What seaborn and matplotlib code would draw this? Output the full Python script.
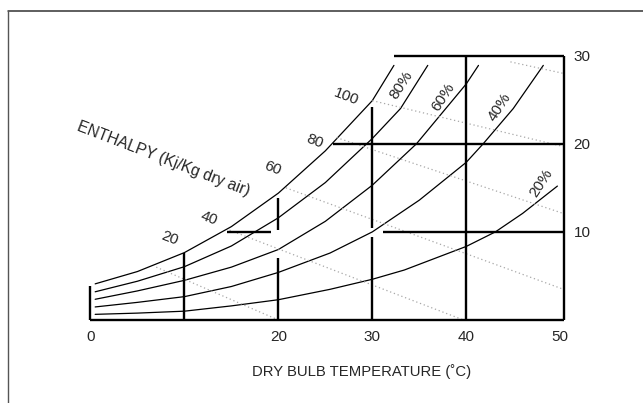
import matplotlib
matplotlib.use("Agg")
import matplotlib.pyplot as plt
from matplotlib.lines import Line2D
import numpy as np
import pandas as pd
import seaborn as sns

# --- Relative-humidity curves (dry bulb °C vs moisture content g/kg) ---
temp_100 = [0.5, 5, 10, 15, 20, 25, 30, 32.3]
moist_100 = [4.1, 5.5, 7.65, 10.6, 14.4, 19.2, 24.9, 28.9]
temp_80 = [0.5, 5, 10, 15, 20, 25, 30, 33, 35.9]
moist_80 = [3.2, 4.4, 6.05, 8.4, 11.6, 15.6, 20.6, 24.0, 28.9]
temp_60 = [0.5, 5, 10, 15, 20, 25, 30, 34.7, 40, 41.3]
moist_60 = [2.35, 3.3, 4.5, 6.0, 8.0, 11.2, 15.3, 20.0, 26.8, 28.9]
temp_40 = [0.5, 5, 10, 15, 20, 25.5, 30, 35, 40, 41.8, 45, 48.2]
moist_40 = [1.48, 2.0, 2.65, 3.8, 5.4, 7.6, 10.0, 13.6, 17.9, 20.0, 24.0, 28.9]
temp_20 = [0.5, 5, 10, 15, 20, 25.5, 30, 33.4, 40, 43.1, 46, 49.7]
moist_20 = [0.64, 0.78, 1.0, 1.6, 2.3, 3.48, 4.62, 5.67, 8.35, 10.0, 12.1, 15.2]

rh_labels = ["80%", "60%", "40%", "20%"]
rh_label_t = [33.1, 37.5, 43.5, 48.0]
rh_label_w = [26.7, 25.3, 24.2, 15.5]

# --- Constant-enthalpy lines (kJ/kg dry air) ---
enthalpy = [20, 40, 60, 80, 100, 120]
enth_t_start = [7.0, 14.8, 20.8, 26.2, 30.0, 44.7]
enth_w_start = [6.0, 10.2, 15.0, 20.7, 24.9, 29.3]
enth_t_end = [20.0, 39.7, 50.3, 50.3, 50.3, 50.3]
enth_w_end = [0.0, 0.0, 3.5, 12.1, 19.7, 28.0]

enth_labels = ["20", "40", "60", "80", "100"]
enth_label_t = [8.4, 12.6, 19.4, 23.9, 27.2]
enth_label_w = [9.3, 11.5, 17.2, 20.3, 25.3]

# --- Heavy reference grid (drawn only below the saturation curve) ---
vert_x = [0, 10, 20, 20, 30, 30, 40, 50.35]
vert_lo = [0, 0, 0, 10.2, 0, 10.4, 0, 0]
vert_hi = [3.9, 7.65, 7.0, 13.8, 9.45, 24.2, 30, 30]
horiz_y = [0, 10, 10, 20, 30]
horiz_lo = [0, 14.5, 31.1, 25.8, 32.3]
horiz_hi = [50.35, 19.2, 50.35, 50.35, 50.35]

x_ticks = [0, 20, 30, 40, 50]
y_ticks = [10, 20, 30]

sns.set_style("white")
plt.rcParams["font.family"] = ["Liberation Sans", "DejaVu Sans"]

fig = plt.figure(figsize=(6.43, 4.03), dpi=100)
ax = fig.add_axes([0.1407, 0.2060, 0.7364, 0.6558])
ax.set_xlim(0, 50.4)
ax.set_ylim(0, 30)
for s in ax.spines.values():
    s.set_visible(False)

# humidity curves
curves = []
for name, t, w in [("100", temp_100, moist_100), ("80", temp_80, moist_80),
                   ("60", temp_60, moist_60), ("40", temp_40, moist_40),
                   ("20", temp_20, moist_20)]:
    curves.append(pd.DataFrame({"temp": t, "moist": w, "curve": name}))
rh_df = pd.concat(curves, ignore_index=True)
sns.lineplot(data=rh_df, x="temp", y="moist", units="curve", estimator=None,
             sort=False, color="black", lw=0.9, ax=ax, legend=False)

# enthalpy lines
enth_rows = []
for h, t0, w0, t1, w1 in zip(enthalpy, enth_t_start, enth_w_start, enth_t_end, enth_w_end):
    enth_rows.append({"temp": t0, "moist": w0, "h": h})
    enth_rows.append({"temp": t1, "moist": w1, "h": h})
enth_df = pd.DataFrame(enth_rows)
sns.lineplot(data=enth_df, x="temp", y="moist", units="h", estimator=None,
             sort=False, color="#a8a8a8", lw=0.9, linestyle=(0, (1, 2.2)),
             ax=ax, legend=False)

# heavy grid segments
ax.vlines(vert_x, vert_lo, vert_hi, color="black", lw=1.7, clip_on=False)
ax.hlines(horiz_y, horiz_lo, horiz_hi, color="black", lw=1.7, clip_on=False)

# labels on curves
for lab, t, w in zip(rh_labels, rh_label_t, rh_label_w):
    ax.text(t, w, lab, rotation=57, ha="center", va="center",
            rotation_mode="anchor", fontsize=11)
for lab, t, w in zip(enth_labels, enth_label_t, enth_label_w):
    ax.text(t, w, lab, rotation=-21, ha="center", va="center",
            rotation_mode="anchor", fontsize=11)
ax.text(7.8, 18.3, "ENTHALPY (Kj/Kg dry air)", rotation=-21, ha="center",
        va="center", rotation_mode="anchor", fontsize=11.3)

ax.set_xticks(x_ticks)
ax.set_xticklabels([str(v) for v in x_ticks])
ax.yaxis.tick_right()
ax.set_yticks(y_ticks)
ax.set_yticklabels([str(v) for v in y_ticks])
ax.tick_params(axis="x", length=0, pad=7, labelsize=11)
ax.tick_params(axis="y", length=0, pad=7, labelsize=11)
ax.set_xlabel("")
ax.set_ylabel("")

fig.text(362 / 643, 1 - 372 / 403, "DRY BULB TEMPERATURE (˚C)", ha="center",
         va="center", fontsize=10.7)

# page frame
fig.add_artist(Line2D([7.5 / 643, 1.0], [1 - 11 / 403, 1 - 11 / 403],
                      transform=fig.transFigure, color="#333333", lw=1.1))
fig.add_artist(Line2D([7.5 / 643, 7.5 / 643], [1 - 11 / 403, 0.0],
                      transform=fig.transFigure, color="#555555", lw=1.0))

fig.savefig("out.png", dpi=100)
